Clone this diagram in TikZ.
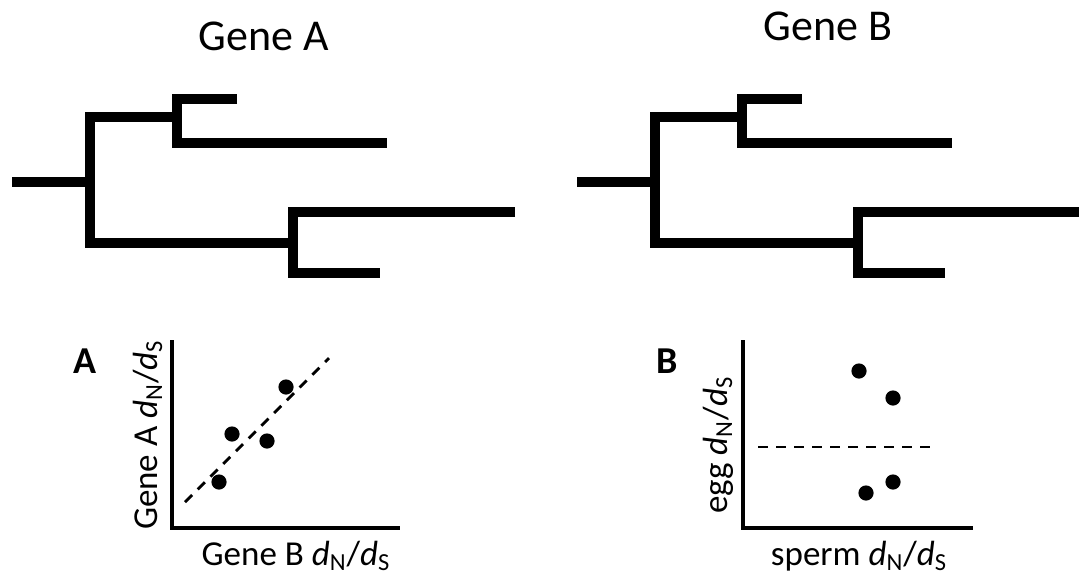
\documentclass[tikz,border=0pt]{standalone}
\usepackage{fontspec}
\setmainfont{Carlito}
\newcommand{\dnds}{\textit{d}\textsubscript{N}/\textit{d}\textsubscript{S}}
\tikzset{branch/.style={line width=4.8pt, line join=miter},
  axis/.style={line width=1.8pt},
  fit line/.style={line width=1.4pt, dash pattern=on 5pt off 4pt},
  dot/.style={circle, fill, inner sep=0pt, minimum size=7.6pt}}
\begin{document}
\begin{tikzpicture}[x=0.5pt,y=-0.5pt]
  \useasboundingbox (0,0) rectangle (1079,580);
  % trees
  \node (ta) at (264,50) [anchor=base] {\fontsize{22}{26}\selectfont Gene A};
  \node (tb) at (828,40) [anchor=base] {\fontsize{22}{26}\selectfont Gene B};
  \coordinate (ar) at (12,182); \coordinate (a0) at (90,182);
  \coordinate (a1) at (177,117); \coordinate (a2) at (293,243);
  \coordinate (al1) at (237,99); \coordinate (al2) at (387,143);
  \coordinate (al3) at (515,212); \coordinate (al4) at (380,273);
  \draw[branch] (ar) -- (a0); \draw[branch] (a1) -| (a0) |- (a2);
  \draw[branch] (al1) -| (a1) |- (al2); \draw[branch] (al3) -| (a2) |- (al4);
  \coordinate (br) at (577,182); \coordinate (b0) at (655,182);
  \coordinate (b1) at (742,117); \coordinate (b2) at (858,243);
  \coordinate (bl1) at (802,99); \coordinate (bl2) at (952,143);
  \coordinate (bl3) at (1080,212); \coordinate (bl4) at (945,273);
  \draw[branch] (br) -- (b0); \draw[branch] (b1) -| (b0) |- (b2);
  \draw[branch] (bl1) -| (b1) |- (bl2); \draw[branch] (bl3) -| (b2) |- (bl4);
  % panel A
  \node (pa) at (85,361) {\fontsize{19}{22}\selectfont\bfseries A};
  \coordinate (ya) at (172,340); \coordinate (xa) at (400,528);
  \draw[axis] (ya) |- (xa);
  \node (xla) at (296,565) [anchor=base] {\fontsize{17.5}{20}\selectfont Gene B \dnds};
  \node (yla) at (157,435) [anchor=base, rotate=90] {\fontsize{17.5}{20}\selectfont Gene A \dnds};
  \coordinate (fa1) at (185,502); \coordinate (fa2) at (329,358);
  \draw[fit line] (fa1) -- (fa2);
  \node (a d1) at (219,482) [dot] {}; \node (a d2) at (232,434) [dot] {};
  \node (a d3) at (267,441) [dot] {}; \node (a d4) at (286,387) [dot] {};
  % panel B
  \node (pb) at (667,361) {\fontsize{19}{22}\selectfont\bfseries B};
  \coordinate (yb) at (743,340); \coordinate (xb) at (973,528);
  \draw[axis] (yb) |- (xb);
  \node (xlb) at (859,565) [anchor=base] {\fontsize{17.5}{20}\selectfont sperm \dnds};
  \node (ylb) at (727,445) [anchor=base, rotate=90] {\fontsize{17.5}{20}\selectfont egg \dnds};
  \coordinate (fb1) at (758,447); \coordinate (fb2) at (933,447);
  \draw[fit line] (fb1) -- (fb2);
  \node (b d1) at (859,371) [dot] {}; \node (b d2) at (893,398) [dot] {};
  \node (b d3) at (866,493) [dot] {}; \node (b d4) at (893,482) [dot] {};
\end{tikzpicture}
\end{document}
